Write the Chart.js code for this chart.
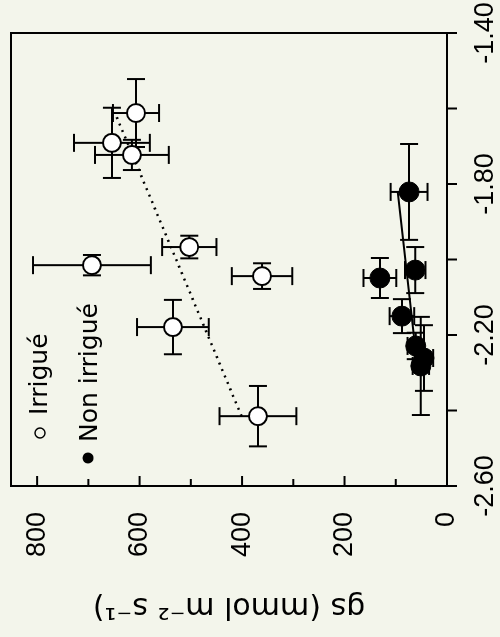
<!DOCTYPE html>
<html><head><meta charset="utf-8">
<script src="https://cdn.jsdelivr.net/npm/chart.js@4"></script>
<style>
html,body{margin:0;padding:0;background:#f3f5eb;width:500px;height:637px;overflow:hidden}
#wrap{position:absolute;left:0;top:0;width:637px;height:500px;transform-origin:0 0;transform:translate(0px,637px) rotate(-90deg);}
canvas{display:block}
</style></head><body>
<div id="wrap"><canvas id="c" width="637" height="500"></canvas></div>
<script>
// Irrigué (open circles)
const irrPsi    = [-1.612, -1.691, -1.723, -1.967, -2.015, -2.044, -2.179, -2.415];
const irrGs     = [607, 654, 615, 503, 693, 361, 535, 369];
const irrPsiErr = [0.090, 0.093, 0.040, 0.030, 0.027, 0.034, 0.072, 0.080];
const irrGsErr  = [45, 74, 72, 53, 115, 59, 70, 75];
// Non irrigué (filled circles)
const nonPsi    = [-1.821, -2.049, -2.028, -2.150, -2.229, -2.261, -2.282];
const nonGs     = [74, 131, 62, 88, 61, 45, 51];
const nonPsiErr = [0.127, 0.053, 0.061, 0.045, 0.035, 0.087, 0.130];
const nonGsErr  = [36, 32, 20, 24, 16, 18, 16];
// regression lines
const irrFitPsi = [-2.415, -1.612];
const irrFitGs  = [401, 648];
const nonFitPsi = [-2.282, -1.821];
const nonFitGs  = [58, 96];
// ticks
const psiTicks  = [-2.6, -2.4, -2.2, -2.0, -1.8, -1.6, -1.4];
const psiLabels = ['-2.60', '', '-2.20', '', '-1.80', '', '-1.40'];
const gsTicks   = [0, 100, 200, 300, 400, 500, 600, 700, 800];
const gsLabels  = ['0', '', '200', '', '400', '', '600', '', '800'];
const legendLabels = ['Irrigué', 'Non irrigué'];
const yTitle = 'gs (mmol m\u207B\u00B2 s\u207B\u00B9)';

const pts = (xs, ys) => xs.map((v, i) => ({x: v, y: ys[i]}));
const noPad = s => { s.paddingTop = 0; s.paddingBottom = 0; s.paddingLeft = 0; s.paddingRight = 0; };

const deco = {
  id: 'deco',
  beforeDatasetsDraw(chart) {
    const {ctx, scales: {x, y}} = chart;
    ctx.save();
    ctx.strokeStyle = '#000'; ctx.lineWidth = 2; ctx.lineCap = 'butt';
    const cap = 9;
    const seg = (a, b, c, d) => { ctx.beginPath(); ctx.moveTo(a, b); ctx.lineTo(c, d); ctx.stroke(); };
    const bars = (ps, gs, pe, ge) => {
      for (let i = 0; i < ps.length; i++) {
        const px = x.getPixelForValue(ps[i]), py = y.getPixelForValue(gs[i]);
        const x1 = x.getPixelForValue(ps[i] - pe[i]), x2 = x.getPixelForValue(ps[i] + pe[i]);
        seg(x1, py, x2, py); seg(x1, py - cap, x1, py + cap); seg(x2, py - cap, x2, py + cap);
        const y1 = y.getPixelForValue(gs[i] - ge[i]), y2 = y.getPixelForValue(gs[i] + ge[i]);
        seg(px, y1, px, y2); seg(px - cap, y1, px + cap, y1); seg(px - cap, y2, px + cap, y2);
      }
    };
    bars(irrPsi, irrGs, irrPsiErr, irrGsErr);
    bars(nonPsi, nonGs, nonPsiErr, nonGsErr);
    ctx.restore();
  },
  afterDraw(chart) {
    const {ctx, chartArea: a, scales: {x, y}} = chart;
    ctx.save();
    ctx.strokeStyle = '#000'; ctx.lineWidth = 2;
    ctx.strokeRect(a.left, a.top, a.right - a.left, a.bottom - a.top);
    const seg = (p, q, r, s) => { ctx.beginPath(); ctx.moveTo(p, q); ctx.lineTo(r, s); ctx.stroke(); };
    psiTicks.forEach(v => { const px = x.getPixelForValue(v); seg(px, a.bottom, px, a.bottom + 10); });
    gsTicks.forEach(v => { const py = y.getPixelForValue(v); seg(a.left, py, a.left + (v % 200 === 0 ? 10 : 7), py); });
    // legend
    ctx.fillStyle = '#000';
    ctx.font = '25px "DejaVu Sans"';
    ctx.textBaseline = 'alphabetic'; ctx.textAlign = 'left';
    ctx.lineWidth = 1.5;
    ctx.beginPath(); ctx.arc(a.left + 53, a.top + 29, 5, 0, Math.PI * 2); ctx.stroke();
    ctx.fillText(legendLabels[0], a.left + 71, a.top + 36);
    ctx.beginPath(); ctx.arc(a.left + 28, a.top + 77, 5.5, 0, Math.PI * 2); ctx.fill();
    ctx.fillText(legendLabels[1], a.left + 44, a.top + 86);
    ctx.restore();
  }
};

new Chart(document.getElementById('c'), {
  data: {
    datasets: [
      {type: 'scatter', label: legendLabels[0], data: pts(irrPsi, irrGs), pointRadius: 9, pointHoverRadius: 9,
       backgroundColor: '#ffffff', borderColor: '#000000', borderWidth: 2, order: 1},
      {type: 'scatter', label: legendLabels[1], data: pts(nonPsi, nonGs), pointRadius: 10, pointHoverRadius: 10,
       backgroundColor: '#000000', borderColor: '#000000', borderWidth: 1, order: 2},
      {type: 'line', label: 'fit irr', data: pts(irrFitPsi, irrFitGs), borderColor: '#000', borderWidth: 2.5,
       borderDash: [2, 5], pointRadius: 0, fill: false, order: 3},
      {type: 'line', label: 'fit non', data: pts(nonFitPsi, nonFitGs), borderColor: '#000', borderWidth: 2,
       pointRadius: 0, fill: false, order: 4}
    ]
  },
  options: {
    responsive: false, animation: false, devicePixelRatio: 1,
    layout: {padding: {top: 11, right: 33, left: 0, bottom: 0}},
    plugins: {legend: {display: false}, tooltip: {enabled: false}},
    scales: {
      x: {
        type: 'linear', position: 'bottom', min: -2.6, max: -1.4,
        afterBuildTicks: s => { s.ticks = psiTicks.map(v => ({value: v})); },
        afterFit: s => { s.height = 53; noPad(s); },
        grid: {display: false, drawTicks: false},
        border: {display: false},
        ticks: {autoSkip: false, maxRotation: 0, minRotation: 0, padding: 22, color: '#000',
                font: {family: '"Liberation Sans", Arial, sans-serif', size: 27},
                callback: (v, i) => psiLabels[i]}
      },
      y: {
        type: 'linear', position: 'left', min: 0, max: 851,
        afterBuildTicks: s => { s.ticks = gsTicks.map(v => ({value: v})); },
        afterFit: s => { s.width = 151; noPad(s); },
        grid: {display: false, drawTicks: false},
        border: {display: false},
        ticks: {autoSkip: false, padding: 26, color: '#000',
                font: {family: '"Liberation Sans", Arial, sans-serif', size: 27},
                callback: (v, i) => gsLabels[i]},
        title: {display: true, text: yTitle, color: '#000', padding: {top: 13, bottom: 0},
                font: {family: '"DejaVu Sans", sans-serif', size: 30}}
      }
    }
  },
  plugins: [deco]
});
</script>
</body></html>
